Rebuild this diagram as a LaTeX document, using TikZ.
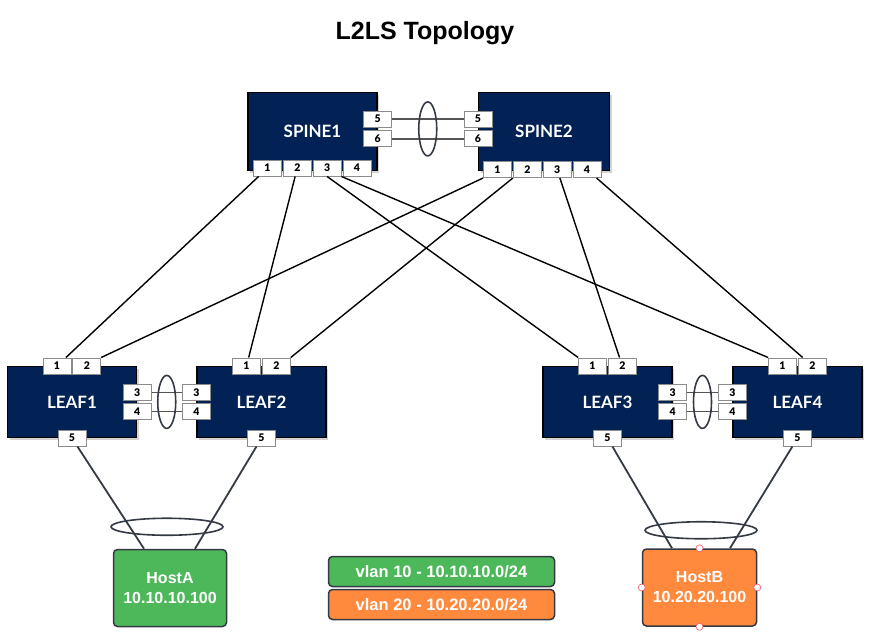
\documentclass[tikz,border=0pt]{standalone}
\usepackage{fontspec}
\setmainfont{Liberation Sans}
\newfontfamily\latofont{Lato}
\newfontfamily\latoheavy{Lato Black}
\usepackage{tikz}
\usetikzlibrary{positioning,calc,shadows,shapes.geometric}
\definecolor{switchnavy}{RGB}{2,33,84}
\definecolor{portgray}{RGB}{140,140,140}
\definecolor{laggray}{RGB}{85,85,85}
\definecolor{edgedark}{RGB}{52,58,68}
\definecolor{hostgreen}{RGB}{77,184,90}
\definecolor{hostorange}{RGB}{255,138,61}
\definecolor{handlered}{RGB}{230,90,110}

\begin{document}
\begin{tikzpicture}[
        x=1pt, y=-1pt,
        switchbox/.style={draw=black, line width=1.2pt, fill=switchnavy, text=white, minimum width=129pt, minimum height=78pt, font=\latofont\bfseries\fontsize{17}{17}\selectfont, drop shadow={shadow xshift=2pt, shadow yshift=-2pt, opacity=0.35}},
        leafbox/.style={switchbox, minimum height=71pt},
        port/.style={draw=portgray, fill=white, line width=0.8pt, minimum width=28pt, minimum height=16pt, inner sep=0pt, font=\latoheavy\fontsize{10.5}{10.5}\selectfont},
        hostbox/.style={draw=edgedark, line width=1.5pt, rounded corners=4pt, text=white, align=center, minimum width=113pt, minimum height=77pt, font=\bfseries\fontsize{16}{20}\selectfont},
        vlanbox/.style={draw=edgedark, line width=1.5pt, rounded corners=4pt, text=white, minimum width=226pt, minimum height=30pt, font=\bfseries\fontsize{16.5}{18}\selectfont},
        link/.style={line width=1.4pt, black},
        laglink/.style={line width=1.6pt, laggray},
        hostlink/.style={line width=1.8pt, edgedark},
        lag/.style={ellipse, draw=edgedark, line width=1.6pt, inner sep=0pt},
        handle/.style={circle, draw=handlered, fill=white, line width=0.6pt, minimum size=7pt, inner sep=0pt}
    ]
    \useasboundingbox (0,0) rectangle (874,643);

    \node[font=\bfseries\fontsize{25}{25}\selectfont] (title) at (425,33) {L2LS Topology};

    % switches
    \node[switchbox] (spine1) at (312.5,131.5) {SPINE1};
    \node[switchbox, minimum width=131pt] (spine2) at (544,131.5) {SPINE2};
    \node[leafbox] (leaf1) at (72,402) {LEAF1};
    \node[leafbox] (leaf2) at (261.5,402) {LEAF2};
    \node[leafbox] (leaf3) at (607.5,402) {LEAF3};
    \node[leafbox] (leaf4) at (797.5,402) {LEAF4};

    % spine ports
    \node[port] (s1p1) at ([xshift=-45pt,yshift=3pt]spine1.south) {1};
    \node[port, right=1pt of s1p1] (s1p2) {2};
    \node[port, right=1pt of s1p2] (s1p3) {3};
    \node[port, right=1pt of s1p3] (s1p4) {4};
    \node[port] (s1p5) at ([yshift=12.5pt]spine1.east) {5};
    \node[port, below=3pt of s1p5] (s1p6) {6};
    \node[port] (s2p1) at ([xshift=-46.5pt,yshift=1.5pt]spine2.south) {1};
    \node[port, right=1pt of s2p1] (s2p2) {2};
    \node[port, right=1pt of s2p2] (s2p3) {3};
    \node[port, right=1pt of s2p3] (s2p4) {4};
    \node[port] (s2p5) at ([yshift=12.5pt]spine2.west) {5};
    \node[port, below=3pt of s2p5] (s2p6) {6};

    % leaf ports
    \node[port] (l1p1) at ([xshift=-15pt]leaf1.north) {1};
    \node[port, right=1pt of l1p1] (l1p2) {2};
    \node[port] (l1p3) at ([yshift=9.5pt]leaf1.east) {3};
    \node[port, below=2pt of l1p3] (l1p4) {4};
    \node[port] (l1p5) at (leaf1.south) {5};
    \node[port] (l2p1) at ([xshift=-15pt]leaf2.north) {1};
    \node[port, right=1pt of l2p1] (l2p2) {2};
    \node[port] (l2p3) at ([yshift=9.5pt]leaf2.west) {3};
    \node[port, below=2pt of l2p3] (l2p4) {4};
    \node[port] (l2p5) at (leaf2.south) {5};
    \node[port] (l3p1) at ([xshift=-15pt]leaf3.north) {1};
    \node[port, right=1pt of l3p1] (l3p2) {2};
    \node[port] (l3p3) at ([yshift=9.5pt]leaf3.east) {3};
    \node[port, below=2pt of l3p3] (l3p4) {4};
    \node[port] (l3p5) at (leaf3.south) {5};
    \node[port] (l4p1) at ([xshift=-15pt]leaf4.north) {1};
    \node[port, right=1pt of l4p1] (l4p2) {2};
    \node[port] (l4p3) at ([yshift=9.5pt]leaf4.west) {3};
    \node[port, below=2pt of l4p3] (l4p4) {4};
    \node[port] (l4p5) at (leaf4.south) {5};

    % hosts and legend
    \node[hostbox, fill=hostgreen] (hostA) at (170,588) {HostA\\10.10.10.100};
    \node[hostbox, fill=hostorange, minimum width=114pt] (hostB) at (699.5,587.5) {HostB\\10.20.20.100};
    \node[vlanbox, fill=hostgreen] (vlan10) at (441.5,571.5) {vlan 10 - 10.10.10.0/24};
    \node[vlanbox, fill=hostorange, below=1.5pt of vlan10] (vlan20) {vlan 20 - 10.20.20.0/24};

    % spine-leaf links
    \draw[link] (s1p1) -- (l1p1);
    \draw[link] (s1p2) -- (l2p1);
    \draw[link] (s1p3.south) -- (l3p1.north west);
    \draw[link] (s1p3.south east) -- (l4p1.north west);
    \draw[link] (s2p1.south west) -- (l1p2.north east);
    \draw[link] (s2p2.south west) -- (l2p2.north east);
    \draw[link] (s2p3) -- (l3p2);
    \draw[link] (s2p4) -- (l4p2);

    % peer links
    \draw[laglink] (s1p5) -- (s2p5);
    \draw[laglink] (s1p6) -- (s2p6);
    \draw[laglink] (l1p3) -- (l2p3);
    \draw[laglink] (l1p4) -- (l2p4);
    \draw[laglink] (l3p3) -- (l4p3);
    \draw[laglink] (l3p4) -- (l4p4);
    \node[lag, minimum width=18pt, minimum height=54pt] (spinelag) at ($(s1p5.east)!0.5!(s2p6.west)$) {};
    \node[lag, minimum width=18pt, minimum height=53pt] (leaflagA) at ($(l1p3.east)!0.5!(l2p4.west)$) {};
    \node[lag, minimum width=18pt, minimum height=53pt] (leaflagB) at ($(l3p3.east)!0.5!(l4p4.west)$) {};

    % host links
    \draw[hostlink] (l1p5) -- ([xshift=-26pt]hostA.north);
    \draw[hostlink] (l2p5) -- ([xshift=25pt]hostA.north);
    \draw[hostlink] (l3p5) -- ([xshift=-27.5pt]hostB.north);
    \draw[hostlink] (l4p5) -- ([xshift=30.5pt]hostB.north);
    \node[lag, minimum width=112pt, minimum height=17pt] (hostlagA) at ([xshift=-3pt,yshift=22pt]hostA.north) {};
    \node[lag, minimum width=112pt, minimum height=17pt] (hostlagB) at ([xshift=1.5pt,yshift=18pt]hostB.north) {};

    % selection handles
    \node[handle] (hbn) at (hostB.north) {};
    \node[handle] (hbs) at (hostB.south) {};
    \node[handle] (hbw) at (hostB.west) {};
    \node[handle] (hbe) at (hostB.east) {};
\end{tikzpicture}
\end{document}
